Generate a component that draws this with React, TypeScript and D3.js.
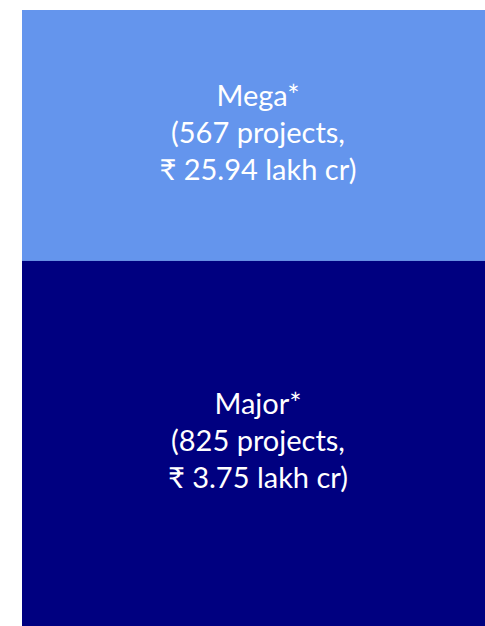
import React from "react";
import * as d3 from "d3";

const categories = ["Mega*", "Major*"];
const projects = [567, 825];
const costLakhCr = ["25.94", "3.75"];
const colors = ["#6495ED", "#000080"];

const W = 485;
const H = 626;

export default function App() {
  const total = d3.sum(projects);
  const y = d3.scaleLinear().domain([0, total]).range([10, H]);
  const x = d3.scaleLinear().domain([0, 1]).range([22, W]);
  const cum = d3.cumsum(projects);
  const starts = projects.map((p, i) => cum[i] - p);
  const cx = 258;
  const lineH = 37;
  return (
    <svg
      width={W}
      height={H}
      style={{ position: "absolute", left: 0, top: 0, background: "#fff" }}
    >
      {categories.map((c, i) => {
        const y0 = y(starts[i]);
        const y1 = y(cum[i]);
        const mid = (y0 + y1) / 2;
        const lines = [c, `(${projects[i]} projects,`, `₹ ${costLakhCr[i]} lakh cr)`];
        return (
          <g key={c}>
            <rect x={x(0)} y={y0} width={x(1) - x(0)} height={y1 - y0} fill={colors[i]} />
            {lines.map((t, j) => (
              <text
                key={j}
                x={cx}
                y={mid + 8 + (j - 1) * lineH}
                textAnchor="middle"
                fill="#fff"
                fontFamily="Lato, 'Noto Sans', sans-serif"
                fontSize={29}
              >
                {t}
              </text>
            ))}
          </g>
        );
      })}
    </svg>
  );
}
